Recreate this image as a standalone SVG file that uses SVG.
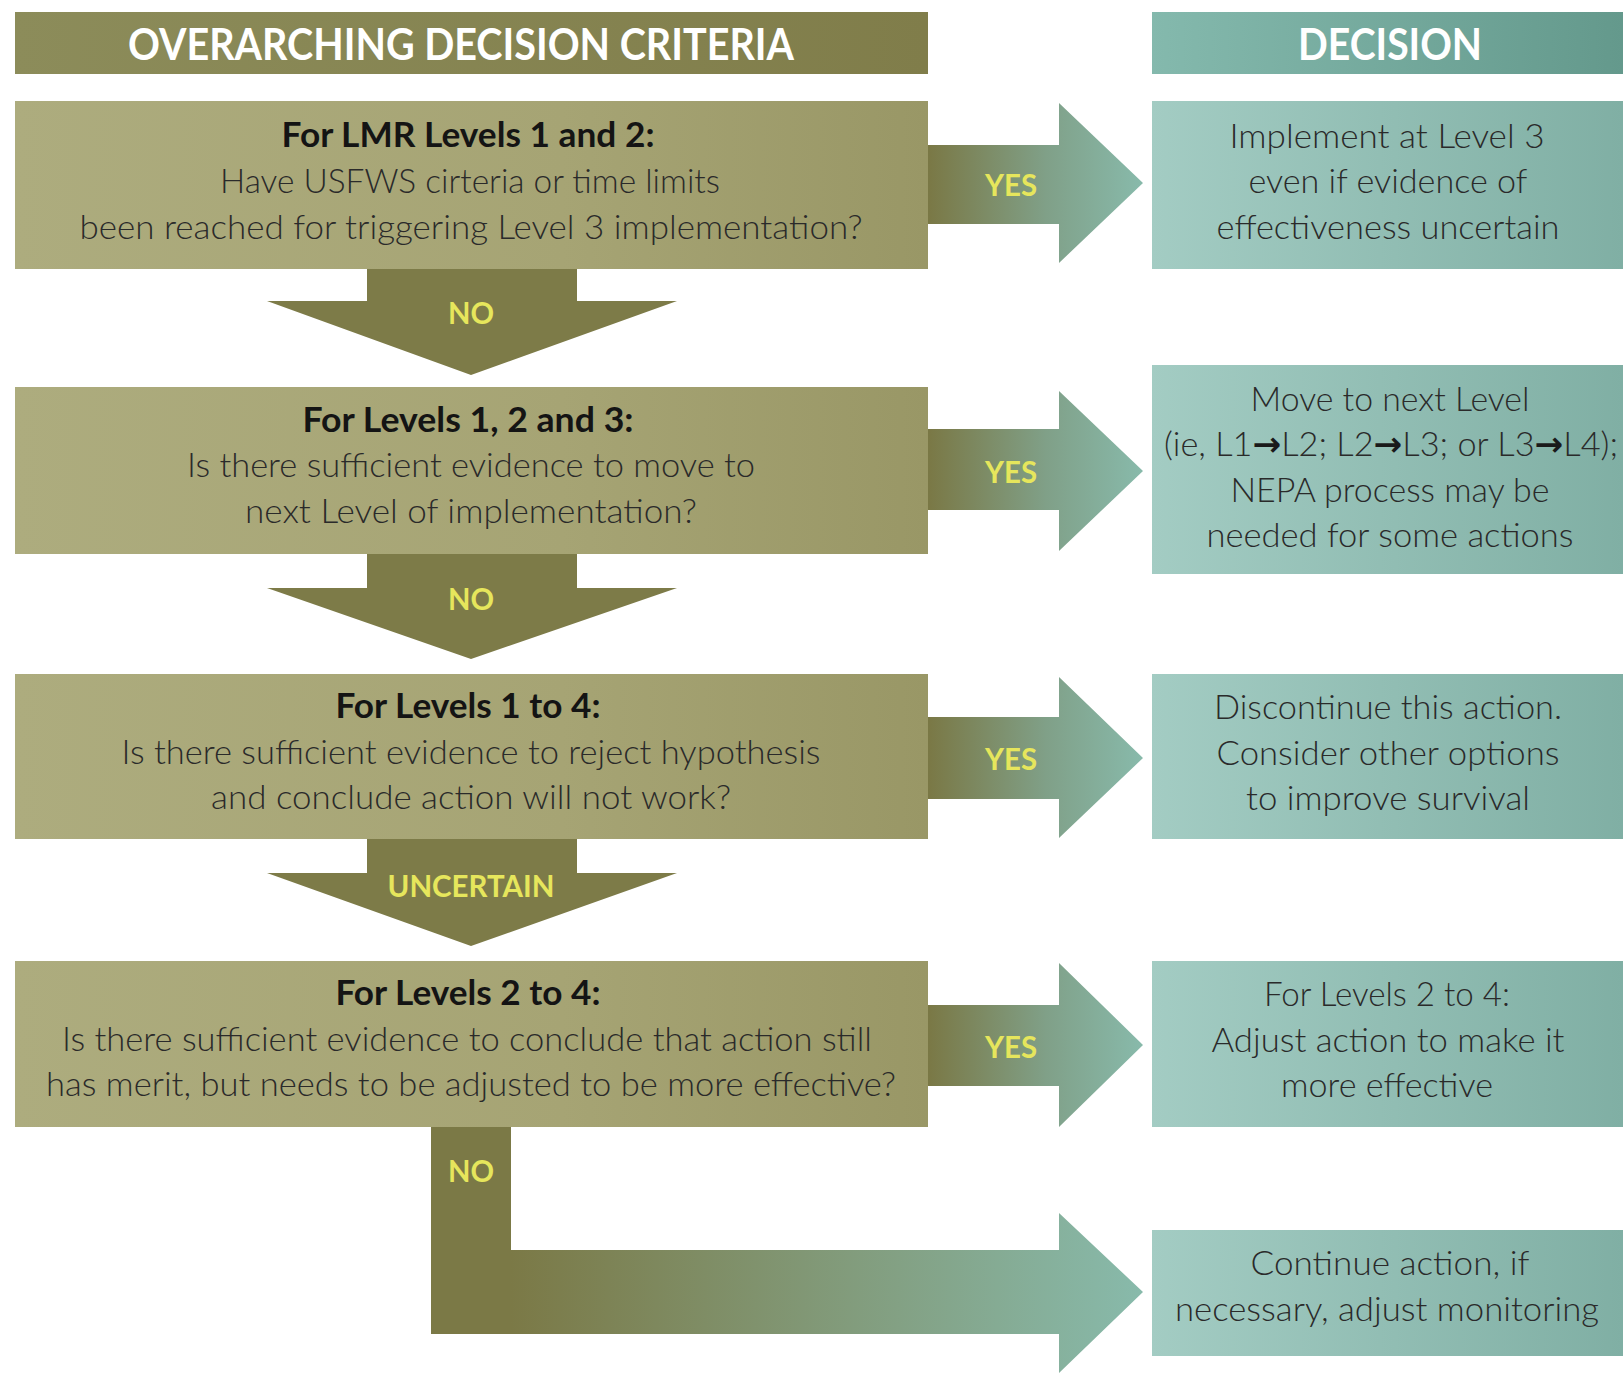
<svg xmlns="http://www.w3.org/2000/svg" width="1623" height="1373" viewBox="0 0 1623 1373">
<defs>
<linearGradient id="gHeadL" x1="0" y1="0" x2="1" y2="0"><stop offset="0" stop-color="#8c8c5a"/><stop offset="1" stop-color="#807d4a"/></linearGradient>
<linearGradient id="gHeadR" x1="0" y1="0" x2="1" y2="0"><stop offset="0" stop-color="#84b9ad"/><stop offset="1" stop-color="#64998c"/></linearGradient>
<linearGradient id="gBoxL" x1="0" y1="0" x2="1" y2="0"><stop offset="0" stop-color="#adac7e"/><stop offset="0.6" stop-color="#a6a474"/><stop offset="1" stop-color="#999766"/></linearGradient>
<linearGradient id="gBoxR" x1="0" y1="0" x2="1" y2="0"><stop offset="0" stop-color="#a3ccc3"/><stop offset="1" stop-color="#80afa4"/></linearGradient>
<linearGradient id="gYes" gradientUnits="userSpaceOnUse" x1="928" y1="0" x2="1143" y2="0"><stop offset="0" stop-color="#7a7845"/><stop offset="0.55" stop-color="#80a088"/><stop offset="1" stop-color="#88baab"/></linearGradient>
<linearGradient id="gL" gradientUnits="userSpaceOnUse" x1="511" y1="0" x2="1143" y2="0"><stop offset="0" stop-color="#7b7946"/><stop offset="1" stop-color="#88baab"/></linearGradient>
<style>
.hd{font-family:Lato,"Liberation Sans",sans-serif;font-weight:700;font-size:44px;fill:#ffffff;text-anchor:middle}
.b{font-family:Lato,"Liberation Sans",sans-serif;font-weight:700;font-size:34px;fill:#141414;text-anchor:middle}
.t{font-family:Lato,"Liberation Sans",sans-serif;font-weight:300;font-size:34px;fill:#2a2a2a;text-anchor:middle}
.lb{font-family:Lato,"Liberation Sans",sans-serif;font-weight:700;font-size:30px;fill:#e6e65c;text-anchor:middle}
.ar{font-family:"DejaVu Sans",sans-serif;font-weight:700;fill:#1a1a1a}
.dn{fill:#7d7b48}
</style>
</defs>
<rect width="1623" height="1373" fill="#ffffff"/>

<g id="header-criteria">
<rect x="15" y="12" width="913" height="62" fill="url(#gHeadL)"/>
<text class="hd" x="461" y="60" textLength="666" lengthAdjust="spacingAndGlyphs">OVERARCHING DECISION CRITERIA</text>
</g>
<g id="header-decision">
<rect x="1152" y="12" width="471" height="62" fill="url(#gHeadR)"/>
<text class="hd" x="1390" y="60" textLength="184" lengthAdjust="spacingAndGlyphs">DECISION</text>
</g>

<g id="connectors">
<polygon points="928,145 1059,145 1059,103 1143,183 1059,263 1059,224 928,224" fill="url(#gYes)"/>
<polygon points="928,429 1059,429 1059,391 1143,471 1059,551 1059,510 928,510" fill="url(#gYes)"/>
<polygon points="928,717 1059,717 1059,677 1143,758 1059,838 1059,799 928,799" fill="url(#gYes)"/>
<polygon points="928,1005 1059,1005 1059,963 1143,1045 1059,1127 1059,1086 928,1086" fill="url(#gYes)"/>
<polygon class="dn" points="367,269 577,269 577,301 677,301 471,375 267,301 367,301"/>
<polygon class="dn" points="367,554 577,554 577,588 677,588 471,659 267,588 367,588"/>
<polygon class="dn" points="367,839 577,839 577,873 677,873 471,946 267,873 367,873"/>
<polygon points="431,1127 511,1127 511,1250 1059,1250 1059,1213 1143,1292 1059,1373 1059,1334 431,1334" fill="url(#gL)"/>
<text class="lb" x="1011" y="196" textLength="52" lengthAdjust="spacingAndGlyphs">YES</text>
<text class="lb" x="1011" y="483" textLength="52" lengthAdjust="spacingAndGlyphs">YES</text>
<text class="lb" x="1011" y="770" textLength="52" lengthAdjust="spacingAndGlyphs">YES</text>
<text class="lb" x="1011" y="1058" textLength="52" lengthAdjust="spacingAndGlyphs">YES</text>
<text class="lb" x="471" y="324" textLength="46" lengthAdjust="spacingAndGlyphs">NO</text>
<text class="lb" x="471" y="610" textLength="46" lengthAdjust="spacingAndGlyphs">NO</text>
<text class="lb" x="471" y="897" textLength="167" lengthAdjust="spacingAndGlyphs">UNCERTAIN</text>
<text class="lb" x="471" y="1182" textLength="46" lengthAdjust="spacingAndGlyphs">NO</text>
</g>

<g id="criteria-1">
<rect x="15" y="101" width="913" height="168" fill="url(#gBoxL)"/>
<text class="b" x="468" y="147" textLength="373" lengthAdjust="spacingAndGlyphs">For LMR Levels 1 and 2:</text>
<text class="t" x="470" y="193" textLength="500" lengthAdjust="spacingAndGlyphs">Have USFWS cirteria or time limits</text>
<text class="t" x="471" y="239" textLength="783" lengthAdjust="spacingAndGlyphs">been reached for triggering Level 3 implementation?</text>
</g>
<g id="criteria-2">
<rect x="15" y="387" width="913" height="167" fill="url(#gBoxL)"/>
<text class="b" x="468" y="432" textLength="331" lengthAdjust="spacingAndGlyphs">For Levels 1, 2 and 3:</text>
<text class="t" x="471" y="477" textLength="568" lengthAdjust="spacingAndGlyphs">Is there sufficient evidence to move to</text>
<text class="t" x="471" y="523" textLength="452" lengthAdjust="spacingAndGlyphs">next Level of implementation?</text>
</g>
<g id="criteria-3">
<rect x="15" y="674" width="913" height="165" fill="url(#gBoxL)"/>
<text class="b" x="468" y="718" textLength="265" lengthAdjust="spacingAndGlyphs">For Levels 1 to 4:</text>
<text class="t" x="471" y="764" textLength="699" lengthAdjust="spacingAndGlyphs">Is there sufficient evidence to reject hypothesis</text>
<text class="t" x="471" y="809" textLength="520" lengthAdjust="spacingAndGlyphs">and conclude action will not work?</text>
</g>
<g id="criteria-4">
<rect x="15" y="961" width="913" height="166" fill="url(#gBoxL)"/>
<text class="b" x="468" y="1005" textLength="265" lengthAdjust="spacingAndGlyphs">For Levels 2 to 4:</text>
<text class="t" x="467" y="1051" textLength="810" lengthAdjust="spacingAndGlyphs">Is there sufficient evidence to conclude that action still</text>
<text class="t" x="471" y="1096" textLength="850" lengthAdjust="spacingAndGlyphs">has merit, but needs to be adjusted to be more effective?</text>
</g>

<g id="decision-1">
<rect x="1152" y="101" width="471" height="168" fill="url(#gBoxR)"/>
<text class="t" x="1387" y="148" textLength="315" lengthAdjust="spacingAndGlyphs">Implement at Level 3</text>
<text class="t" x="1388" y="193" textLength="279" lengthAdjust="spacingAndGlyphs">even if evidence of</text>
<text class="t" x="1388" y="239" textLength="343" lengthAdjust="spacingAndGlyphs">effectiveness uncertain</text>
</g>
<g id="decision-2">
<rect x="1152" y="365" width="471" height="209" fill="url(#gBoxR)"/>
<text class="t" x="1390" y="411" textLength="279" lengthAdjust="spacingAndGlyphs">Move to next Level</text>
<text class="t" x="1391" y="456" textLength="454" lengthAdjust="spacingAndGlyphs">(ie, L1<tspan class="ar">→</tspan>L2; L2<tspan class="ar">→</tspan>L3; or L3<tspan class="ar">→</tspan>L4);</text>
<text class="t" x="1390" y="502" textLength="319" lengthAdjust="spacingAndGlyphs">NEPA process may be</text>
<text class="t" x="1390" y="547" textLength="367" lengthAdjust="spacingAndGlyphs">needed for some actions</text>
</g>
<g id="decision-3">
<rect x="1152" y="674" width="471" height="165" fill="url(#gBoxR)"/>
<text class="t" x="1388" y="719" textLength="348" lengthAdjust="spacingAndGlyphs">Discontinue this action.</text>
<text class="t" x="1388" y="765" textLength="343" lengthAdjust="spacingAndGlyphs">Consider other options</text>
<text class="t" x="1388" y="810" textLength="284" lengthAdjust="spacingAndGlyphs">to improve survival</text>
</g>
<g id="decision-4">
<rect x="1152" y="961" width="471" height="166" fill="url(#gBoxR)"/>
<text class="t" x="1387" y="1006" textLength="246" lengthAdjust="spacingAndGlyphs">For Levels 2 to 4:</text>
<text class="t" x="1388" y="1052" textLength="353" lengthAdjust="spacingAndGlyphs">Adjust action to make it</text>
<text class="t" x="1387" y="1097" textLength="212" lengthAdjust="spacingAndGlyphs">more effective</text>
</g>
<g id="decision-5">
<rect x="1152" y="1230" width="471" height="126" fill="url(#gBoxR)"/>
<text class="t" x="1390" y="1275" textLength="279" lengthAdjust="spacingAndGlyphs">Continue action, if</text>
<text class="t" x="1387" y="1321" textLength="424" lengthAdjust="spacingAndGlyphs">necessary, adjust monitoring</text>
</g>
</svg>
